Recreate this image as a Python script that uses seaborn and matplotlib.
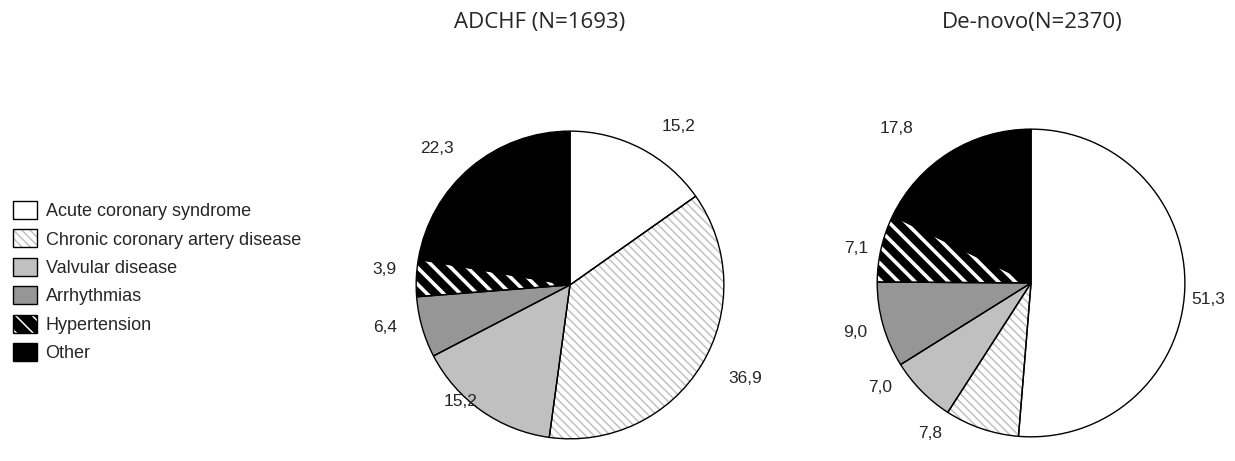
import matplotlib
matplotlib.use('Agg')
import numpy as np
import matplotlib.pyplot as plt
import seaborn as sns
from matplotlib.patches import Patch

sns.set_style('white')
plt.rcParams['font.family'] = ['Liberation Sans', 'DejaVu Sans']

# Causes of heart failure, percentages
causes = ['Acute coronary syndrome', 'Chronic coronary artery disease', 'Valvular disease',
          'Arrhythmias', 'Hypertension', 'Other']
adchf = [15.2, 36.9, 15.2, 6.4, 3.9, 22.3]
denovo = [51.3, 7.8, 7.0, 9.0, 7.1, 17.8]
titles = ['ADCHF (N=1693)', 'De-novo(N=2370)']

# Fill styles for each cause
faces = ['white', 'white', '#c0c0c0', '#969696', 'black', 'black']
hatches = [None, '\\\\\\\\', None, None, '\\\\', None]
hatch_cols = ['white', '#c2c2c2', '#c0c0c0', '#969696', 'white', 'black']
hatch_lws = [1.0, 1.1, 1.0, 1.0, 2.6, 1.0]

# label placement tweaks (distance in radii, angle shift in degrees), like the original
label_dist = [[1.25, 1.29, 1.04, 1.23, 1.21, 1.24],
              [1.16, 1.18, 1.19, 1.19, 1.16, 1.33]]
label_shift = [[-7, 3, -8, -3, -2, 4],
               [-3, -15, -10, 0, 2, 9]]


def fmt(v):
    return f'{v:.1f}'.replace('.', ',')


fig = plt.figure(figsize=(12.35, 4.61), dpi=100)

# axes rectangles in figure fractions (pie centre, radius ~154 px)
rects = [[0.2996, -0.052, 0.3239, 0.8677],
         [0.6729, -0.0477, 0.3239, 0.8677]]
title_x = [0.437, 0.8356]

for k, (vals, rect, title, tx) in enumerate(zip([adchf, denovo], rects, titles, title_x)):
    ax = fig.add_axes(rect)
    # filled layer with hatching (hatch colour comes from the edge colour)
    for i in range(len(vals)):
        plt.rcParams['hatch.linewidth'] = hatch_lws[i]
        w, _ = ax.pie(vals, startangle=90, counterclock=False)
        for j, p in enumerate(w):
            if j != i:
                p.remove()
        p = w[i]
        p.set_facecolor(faces[i])
        p.set_edgecolor(hatch_cols[i])
        p.set_linewidth(0)
        if hatches[i]:
            p.set_hatch(hatches[i])
    # outline layer with value labels
    wedges, texts = ax.pie(vals, startangle=90, counterclock=False,
                           labels=[fmt(v) for v in vals], labeldistance=1.2,
                           wedgeprops=dict(fill=False, edgecolor='black', linewidth=1.0),
                           textprops=dict(fontsize=12.5, ha='center', va='center'))
    for w, t, d, s in zip(wedges, texts, label_dist[k], label_shift[k]):
        ang = np.deg2rad((w.theta1 + w.theta2) / 2 + s)
        t.set_position((d * np.cos(ang), d * np.sin(ang)))
    ax.set_xlim(-1.3, 1.3)
    ax.set_ylim(-1.3, 1.3)
    ax.set_aspect('equal')
    ax.axis('off')
    fig.text(tx, 0.952, title, ha='center', va='center', family='Open Sans', fontsize=16)

plt.rcParams['hatch.linewidth'] = 1.1
handles = []
for f, h, hc in zip(faces, hatches, hatch_cols):
    handles.append((Patch(facecolor=f, hatch=h, edgecolor=hc, linewidth=0),
                    Patch(fill=False, edgecolor='black', linewidth=1.0)))

fig.legend(handles, causes, loc='upper left', bbox_to_anchor=(13 / 1235, 1 - 201 / 461),
           frameon=False, borderpad=0, borderaxespad=0, fontsize=13,
           handlelength=1.35, handleheight=1.15, handletextpad=0.45, labelspacing=0.52)

fig.savefig('out.png', dpi=100, facecolor='white')
